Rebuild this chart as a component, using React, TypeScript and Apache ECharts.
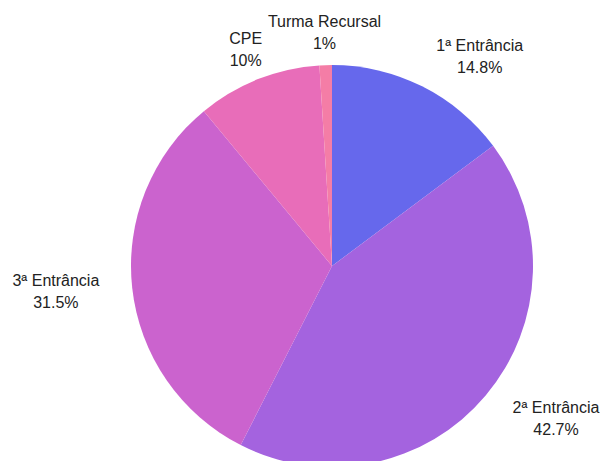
import React, { useEffect, useRef } from "react";
import * as echarts from "echarts";

const categories = ["1ª Entrância", "2ª Entrância", "3ª Entrância", "CPE", "Turma Recursal"];
const values = [14.8, 42.7, 31.5, 10, 1];
const colors = ["#6668EC", "#A463DF", "#CB63CE", "#E86DB9", "#F47DA6"];

// layout constants (not data)
const CX = 332;
const CY = 266;
const R = 201;
const GAP = 13;
const LABEL_NUDGE: [number, number][] = [
  [30, 4],
  [17, -4],
  [-20, 0],
  [-1, 4],
  [1, 2],
];

export default function App() {
  const ref = useRef<HTMLDivElement>(null);
  useEffect(() => {
    if (!ref.current) return;
    const chart = echarts.init(ref.current, undefined, { renderer: "svg" });
    const total = values.reduce((a, b) => a + b, 0);
    const midAngle = (i: number) => {
      let before = 0;
      for (let j = 0; j < i; j++) before += values[j];
      return ((before + values[i] / 2) / total) * Math.PI * 2;
    };
    chart.setOption({
      animation: false,
      backgroundColor: "#ffffff",
      series: [
        {
          type: "pie",
          center: [CX, CY],
          radius: R,
          startAngle: 90,
          clockwise: true,
          avoidLabelOverlap: false,
          emphasis: { disabled: true },
          itemStyle: { borderWidth: 0 },
          label: {
            show: true,
            position: "outside",
            formatter: (p: any) => `${p.name}\n${p.value}%`,
            fontSize: 16,
            lineHeight: 22,
            color: "#222222",
            fontFamily: "Liberation Sans, Arial, sans-serif",
          },
          labelLine: { show: false },
          labelLayout: (params: any) => {
            const i = params.dataIndex;
            const a = midAngle(i);
            const vx = Math.sin(a);
            const vy = -Math.cos(a);
            const vs = 1 / Math.max(Math.abs(vx), Math.abs(vy));
            const w = params.labelRect.width;
            const h = params.labelRect.height;
            const r = R + GAP;
            return {
              x: CX + r * vx + (w / 2) * vx * vs + LABEL_NUDGE[i][0],
              y: CY + r * vy + (h / 2) * vy * vs + LABEL_NUDGE[i][1],
              align: "center",
              verticalAlign: "middle",
            };
          },
          data: categories.map((name, i) => ({
            name,
            value: values[i],
            itemStyle: { color: colors[i] },
          })),
        },
      ],
    });
    return () => chart.dispose();
  }, []);
  return (
    <div
      ref={ref}
      style={{ position: "fixed", left: 0, top: 0, width: 602, height: 461 }}
    />
  );
}
